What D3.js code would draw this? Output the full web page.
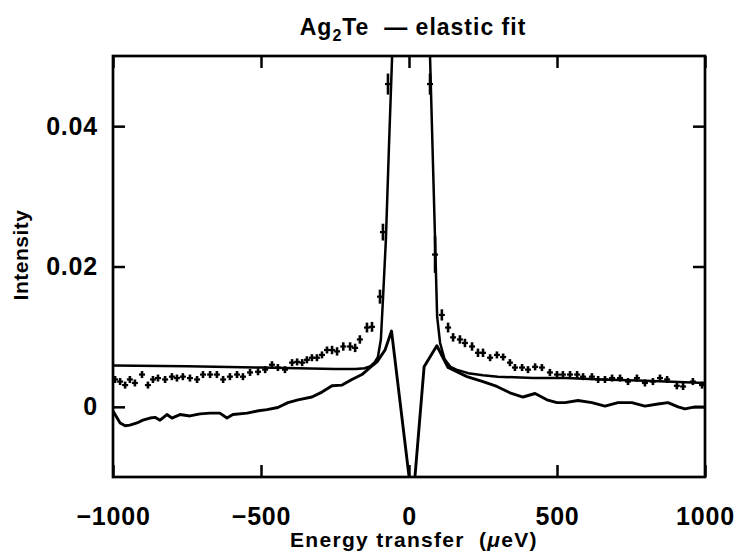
<!DOCTYPE html>
<html>
<head>
<meta charset="utf-8">
<script src="https://cdn.jsdelivr.net/npm/d3@7"></script>
<style>
  html, body { margin: 0; padding: 0; background: #fff; }
  svg { display: block; }
  text { font-family: "Liberation Sans", Arial, Helvetica, sans-serif; font-weight: bold; fill: #000; }
</style>
</head>
<body>
<svg id="chart" width="737" height="555"></svg>
<script>
// Axis ticks
const xTicks = [-1000, -500, 0, 500, 1000];
const xTickLabels = ["\u22121000", "\u2212500", "0", "500", "1000"];
const yTicks = [0, 0.02, 0.04];
const yTickLabels = ["0", "0.02", "0.04"];

// Measured spectrum: energy transfer (µeV), intensity, error
const dataE = [-993,-976,-959,-943,-926,-902,-882,-865,-848,-824,-801,-784,-764,-740,-716,-696,-672,-649,-628,-605,
  -581,-561,-537,-510,-486,-463,-443,-419,-395,-378,-361,-345,-328,-311,-294,-277,-260,-243,-222,-199,
  -182,-166,-142,-125,-98,-88,-71,-50,-30,-10,10,30,50,71,88,111,132,149,172,189,
  213,233,250,274,297,318,341,358,382,402,426,449,476,500,520,544,568,588,618,639,
  662,686,713,740,770,797,824,848,872,905,926,959,990];
const dataI = [0.0039,0.0036,0.0031,0.0039,0.0034,0.0046,0.0031,0.0039,0.0041,0.0039,0.0043,0.0041,0.0043,0.0041,0.0039,0.0046,0.0046,0.0046,0.0039,0.0043,
  0.0046,0.0043,0.0049,0.0050,0.0053,0.0060,0.0056,0.0053,0.0063,0.0064,0.0063,0.0067,0.0070,0.0070,0.0074,0.0081,0.0081,0.0079,0.0086,0.0086,
  0.0084,0.0096,0.0113,0.0114,0.0157,0.0249,0.0460,0.1200,0.3000,0.4400,0.4500,0.3100,0.1200,0.0460,0.0217,0.0131,0.0113,0.0099,0.0096,0.0091,
  0.0086,0.0077,0.0077,0.0070,0.0074,0.0071,0.0063,0.0056,0.0056,0.0053,0.0057,0.0056,0.0049,0.0046,0.0046,0.0046,0.0046,0.0043,0.0043,0.0039,
  0.0039,0.0041,0.0041,0.0036,0.0041,0.0034,0.0036,0.0041,0.0039,0.0030,0.0029,0.0036,0.0031];
const dataErr = [0.0005,0.0005,0.0005,0.0005,0.0005,0.0005,0.0005,0.0005,0.0005,0.0005,0.0005,0.0005,0.0005,0.0005,0.0005,0.0005,0.0005,0.0005,0.0005,0.0005,
  0.0005,0.0005,0.0005,0.0005,0.0005,0.0005,0.0005,0.0005,0.0005,0.0005,0.0005,0.0005,0.0005,0.0005,0.0005,0.0005,0.0006,0.0006,0.0006,0.0006,
  0.0006,0.0006,0.0007,0.0007,0.0010,0.0012,0.0015,0.0030,0.0050,0.0060,0.0060,0.0050,0.0030,0.0015,0.0026,0.0008,0.0007,0.0006,0.0006,0.0006,
  0.0006,0.0006,0.0006,0.0005,0.0005,0.0005,0.0005,0.0005,0.0005,0.0005,0.0005,0.0005,0.0005,0.0005,0.0005,0.0005,0.0005,0.0005,0.0005,0.0005,
  0.0005,0.0005,0.0005,0.0005,0.0005,0.0005,0.0005,0.0005,0.0005,0.0005,0.0005,0.0005,0.0005];

// Elastic fit curve (elastic peak on a sloping background)
const fitE = [-1000,-750,-500,-250,-180,-150,-130,-115,-105,-95,-88,-78,-68,-57,-40,-15,10,35,55,71,
  88,95,105,120,140,160,200,250,300,420,530,650,800,1000];
const fitI = [0.0059,0.0058,0.0056,0.0054,0.0054,0.0055,0.0058,0.0064,0.0071,0.0096,0.0153,0.0239,0.0367,0.0500,0.0710,0.3000,0.4500,0.3000,0.0750,0.0500,
  0.0239,0.0129,0.0091,0.0068,0.0057,0.0053,0.0048,0.0045,0.0043,0.0041,0.0041,0.0039,0.0037,0.0034];

// Spectrum with the elastic component subtracted
const resE = [-1000,-993,-976,-959,-943,-919,-899,-875,-858,-841,-818,-801,-774,-740,-706,-672,-639,-615,-595,-547,
  -514,-480,-443,-409,-375,-328,-294,-260,-226,-193,-159,-132,-108,-81,-59,12,51,94,132,196,
  250,297,341,385,426,466,500,527,571,618,662,706,753,797,841,875,909,932,966,1000];
const resI = [-0.0006,-0.0011,-0.0023,-0.0027,-0.0026,-0.0023,-0.0019,-0.0016,-0.0015,-0.0019,-0.0011,-0.0016,-0.0011,-0.0013,-0.0010,-0.0009,-0.0009,-0.0016,-0.0011,-0.0009,
  -0.0006,-0.0004,-0.0001,0.0006,0.0010,0.0014,0.0021,0.0030,0.0031,0.0039,0.0046,0.0056,0.0064,0.0081,0.0108,-0.0141,0.0057,0.0087,0.0056,0.0043,
  0.0036,0.0029,0.0020,0.0014,0.0019,0.0010,0.0006,0.0006,0.0009,0.0006,0.0001,0.0006,0.0006,0.0001,0.0004,0.0006,0.0000,-0.0003,0.0000,0.0000];

const svg = d3.select("#chart");
const plotLeft = 113, plotRight = 705, plotTop = 56, plotBottom = 477;

const x = d3.scaleLinear().domain([-1000, 1000]).range([plotLeft, plotRight]);
const y = d3.scaleLinear().domain([-0.01, 0.05]).range([plotBottom, plotTop]);

svg.append("defs").append("clipPath").attr("id", "plotclip")
  .append("rect").attr("x", plotLeft).attr("y", plotTop)
  .attr("width", plotRight - plotLeft).attr("height", plotBottom - plotTop);

const plot = svg.append("g").attr("clip-path", "url(#plotclip)");

const line = d3.line().x(d => x(d[0])).y(d => y(d[1]));

// fit curve
plot.append("path")
  .datum(fitE.map((e, i) => [e, fitI[i]]))
  .attr("d", line)
  .attr("fill", "none").attr("stroke", "#000").attr("stroke-width", 2.5).attr("stroke-linejoin", "round");

// subtracted spectrum
plot.append("path")
  .datum(resE.map((e, i) => [e, resI[i]]))
  .attr("d", line)
  .attr("fill", "none").attr("stroke", "#000").attr("stroke-width", 2.9).attr("stroke-linejoin", "round");

// data points with error bars
const pts = dataE.map((e, i) => ({ e, v: dataI[i], err: dataErr[i] }));
const pg = plot.append("g").attr("stroke", "#000");
pg.selectAll("line.err").data(pts).join("line").attr("class", "err")
  .attr("x1", d => x(d.e)).attr("x2", d => x(d.e))
  .attr("y1", d => y(d.v - d.err)).attr("y2", d => y(d.v + d.err))
  .attr("stroke-width", 2.6);
pg.selectAll("line.pt").data(pts).join("line").attr("class", "pt")
  .attr("x1", d => x(d.e) - 3).attr("x2", d => x(d.e) + 3)
  .attr("y1", d => y(d.v)).attr("y2", d => y(d.v))
  .attr("stroke-width", 2.2);

// frame and inward ticks on all four sides
const tickLen = 12;
const axisBottom = d3.axisBottom(x).tickValues(xTicks).tickSize(-tickLen).tickSizeOuter(0).tickFormat((d, i) => xTickLabels[i]);
const axisTop = d3.axisTop(x).tickValues(xTicks).tickSize(-tickLen).tickSizeOuter(0).tickFormat("");
const axisLeft = d3.axisLeft(y).tickValues(yTicks).tickSize(-tickLen).tickSizeOuter(0).tickFormat((d, i) => yTickLabels[i]);
const axisRight = d3.axisRight(y).tickValues(yTicks).tickSize(-tickLen).tickSizeOuter(0).tickFormat("");

function styleAxis(g) {
  g.select(".domain").remove();
  g.selectAll(".tick line").attr("stroke", "#000").attr("stroke-width", 2.5);
  g.selectAll(".tick text").attr("font-size", 25).attr("font-family", null).attr("fill", "#000")
    .attr("letter-spacing", "0.8px");
}

svg.append("g").attr("transform", `translate(0,${plotBottom})`).call(axisBottom).call(styleAxis)
  .call(g => g.selectAll(".tick text").attr("y", 30).attr("dy", "0.71em"));
svg.append("g").attr("transform", `translate(0,${plotTop})`).call(axisTop).call(styleAxis);
svg.append("g").attr("transform", `translate(${plotLeft},0)`).call(axisLeft).call(styleAxis)
  .call(g => g.selectAll(".tick text").attr("x", -15));
svg.append("g").attr("transform", `translate(${plotRight},0)`).call(axisRight).call(styleAxis);

svg.append("rect").attr("x", plotLeft).attr("y", plotTop)
  .attr("width", plotRight - plotLeft).attr("height", plotBottom - plotTop)
  .attr("fill", "none").attr("stroke", "#000").attr("stroke-width", 2.7);

// title
const title = svg.append("text").attr("x", 413).attr("y", 35).attr("text-anchor", "middle")
  .attr("font-size", 23).attr("letter-spacing", "1px");
title.append("tspan").text("Ag");
title.append("tspan").attr("font-size", 16).attr("dy", 6).text("2");
title.append("tspan").attr("dy", -6).text("Te\u00a0\u00a0\u2014 elastic fit");

// axis titles
const xt = svg.append("text").attr("x", 414).attr("y", 547).attr("text-anchor", "middle")
  .attr("font-size", 21).attr("letter-spacing", "1.3px");
xt.append("tspan").text("Energy transfer\u00a0\u00a0(");
xt.append("tspan").attr("font-style", "italic").text("\u03bc");
xt.append("tspan").text("eV)");

svg.append("text").attr("transform", "translate(28,255) rotate(-90)").attr("text-anchor", "middle")
  .attr("font-size", 21).attr("letter-spacing", "0.5px").text("Intensity");
</script>
</body>
</html>
